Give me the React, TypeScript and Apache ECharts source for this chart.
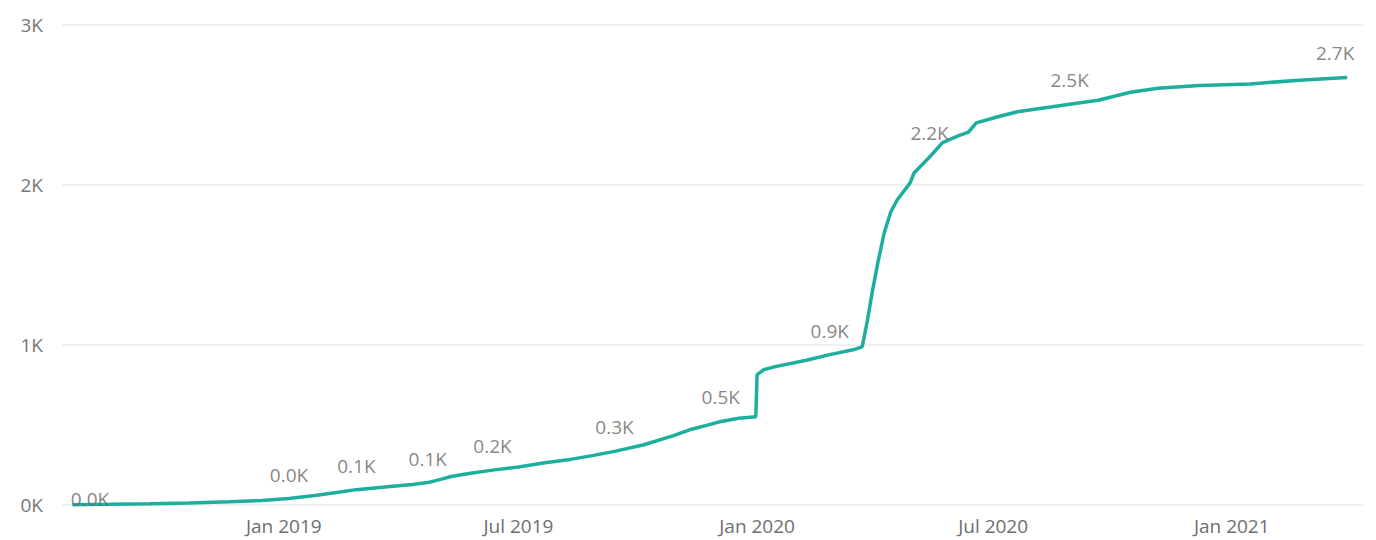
import React, { useEffect, useRef } from "react";
import * as echarts from "echarts";

const dates: string[] = [
  "2018-07-22", "2018-08-20", "2018-09-20", "2018-10-20", "2018-11-20", "2018-12-15",
  "2019-01-05", "2019-01-25", "2019-02-12", "2019-02-26", "2019-03-20", "2019-04-10",
  "2019-04-22", "2019-05-02", "2019-05-10", "2019-05-25", "2019-06-11", "2019-07-01",
  "2019-07-20", "2019-08-10", "2019-08-28", "2019-09-13", "2019-10-05", "2019-10-28",
  "2019-11-10", "2019-11-23", "2019-12-04", "2019-12-18", "2019-12-31", "2020-01-01",
  "2020-01-06", "2020-01-15", "2020-02-08", "2020-02-26", "2020-03-15", "2020-03-22",
  "2020-03-26", "2020-03-30", "2020-04-03", "2020-04-08", "2020-04-13", "2020-04-18",
  "2020-04-28", "2020-05-01", "2020-05-13", "2020-05-23", "2020-06-05", "2020-06-12",
  "2020-06-18", "2020-07-04", "2020-07-21", "2020-08-29", "2020-09-20", "2020-10-15",
  "2020-11-05", "2020-12-07", "2021-01-15", "2021-02-22", "2021-03-31",
];

const values: number[] = [
  2, 4, 8, 13, 20, 28,
  40, 60, 80, 96, 112, 128,
  140, 160, 178, 198, 218, 238,
  262, 285, 310, 335, 375, 432,
  470, 498, 522, 542, 552, 815,
  845, 865, 905, 940, 970, 988,
  1150, 1340, 1510, 1700, 1830, 1906,
  2013, 2075, 2175, 2265, 2310, 2330,
  2388, 2425, 2460, 2505, 2530, 2580,
  2605, 2622, 2632, 2655, 2672,
];

const labelDates: string[] = [
  "2018-07-22", "2019-01-05", "2019-02-26", "2019-04-22", "2019-06-11", "2019-09-13",
  "2019-12-04", "2020-02-26", "2020-05-13", "2020-08-29", "2021-03-31",
];

const xTicks: string[] = ["2019-01-01", "2019-07-01", "2020-01-01", "2020-07-01", "2021-01-01"];
const yTicks: number[] = [0, 1000, 2000, 3000];

const xMin = "2018-07-14";
const xMax = "2021-04-13";

const MONTHS = ["Jan", "Feb", "Mar", "Apr", "May", "Jun", "Jul", "Aug", "Sep", "Oct", "Nov", "Dec"];
const ts = (d: string) => {
  const [y, m, dd] = d.split("-").map(Number);
  return Date.UTC(y, m - 1, dd);
};

export default function App() {
  const ref = useRef<HTMLDivElement>(null);
  useEffect(() => {
    if (!ref.current) return;
    const chart = echarts.init(ref.current, null, { renderer: "svg" });
    const font = "'Open Sans', 'Noto Sans', sans-serif";
    const lineData = dates.map((d, i) => [ts(d), values[i]]);
    const labelData = labelDates.map((d) => {
      const i = dates.indexOf(d);
      const item: any = { value: [ts(d), values[i]] };
      if (i === 0) {
        item.label = { position: "right", distance: -2, offset: [0, -6] };
      }
      if (i === dates.length - 1) {
        item.label = { offset: [-12, 0] };
      }
      return item;
    });
    chart.setOption({
      animation: false,
      grid: { left: 62, right: 12, top: 25, bottom: 35, containLabel: false },
      xAxis: {
        type: "value",
        min: ts(xMin),
        max: ts(xMax),
        axisLine: { show: false },
        axisTick: { show: false },
        splitLine: { show: false },
        axisLabel: {
          customValues: xTicks.map(ts),
          formatter: (v: number) => {
            const d = new Date(v);
            return MONTHS[d.getUTCMonth()] + " " + d.getUTCFullYear();
          },
          color: "#6E6E6E",
          fontSize: 19,
          fontFamily: font,
          margin: 11,
        },
      },
      yAxis: {
        type: "value",
        min: yTicks[0],
        max: yTicks[yTicks.length - 1],
        interval: 1000,
        axisLine: { show: false },
        axisTick: { show: false },
        splitLine: { lineStyle: { color: "#EBEBEB", width: 1.5 } },
        axisLabel: {
          formatter: (v: number) => v / 1000 + "K",
          color: "#777777",
          fontSize: 19,
          fontFamily: font,
          margin: 19,
        },
      },
      series: [
        {
          type: "line",
          data: lineData,
          showSymbol: false,
          lineStyle: { color: "#1DAF9E", width: 3.5 },
          itemStyle: { color: "#1DAF9E" },
          emphasis: { disabled: true },
        },
        {
          type: "scatter",
          data: labelData,
          symbolSize: 1,
          itemStyle: { color: "rgba(0,0,0,0)" },
          emphasis: { disabled: true },
          label: {
            show: true,
            position: "top",
            distance: 14,
            color: "#666666",
            fontSize: 19,
            fontFamily: font,
            formatter: (p: any) => (p.value[1] / 1000).toFixed(1) + "K",
          },
          z: 5,
        },
      ],
    });
    return () => chart.dispose();
  }, []);
  return (
    <div
      ref={ref}
      style={{ position: "absolute", left: 0, top: 0, width: 1376, height: 540, background: "#ffffff" }}
    />
  );
}
